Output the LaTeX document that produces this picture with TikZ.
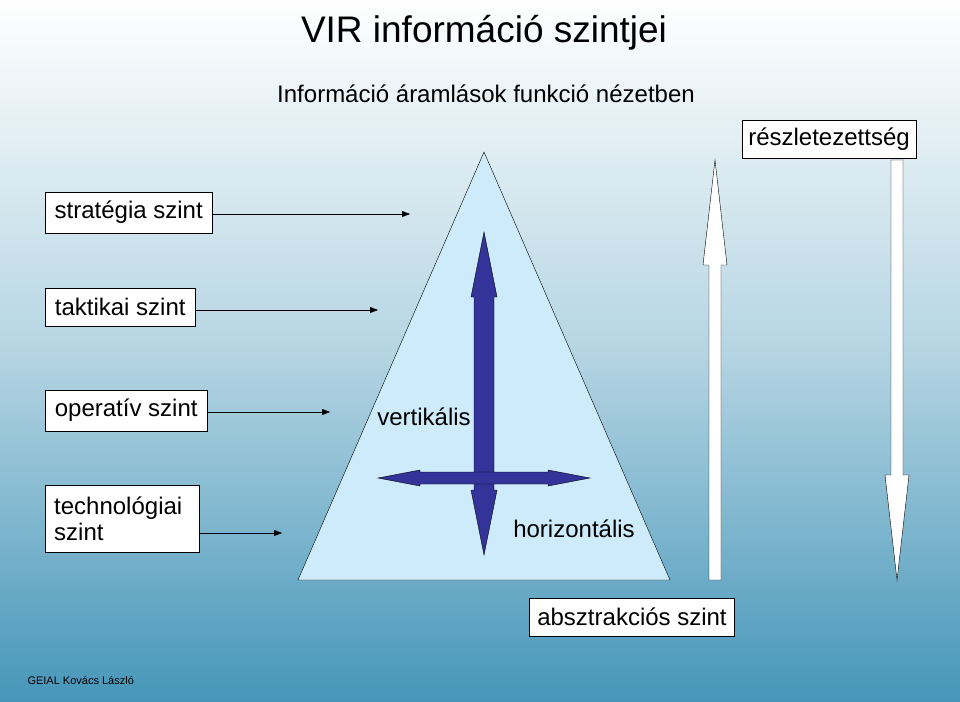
\documentclass[tikz,border=0pt]{standalone}
\usepackage{fontspec}
\setmainfont{Liberation Sans}
\usetikzlibrary{arrows.meta,positioning}
\definecolor{bgblue}{RGB}{70,150,185}
\definecolor{pyrfill}{RGB}{205,235,250}
\definecolor{navy}{RGB}{51,51,153}
\tikzset{
  lvlbox/.style={draw=black,fill=white,font=\fontsize{24}{26}\selectfont,align=left,inner sep=9pt,anchor=north west},
  lvlarrow/.style={draw=black,-{Triangle[length=8pt,width=6pt]}},
  bigarrow/.style={draw=black,fill=navy},
  whitearrow/.style={draw=black,fill=white}
}
\begin{document}
\begin{tikzpicture}[x=1pt,y=-1pt]
  \shade[top color=white,bottom color=bgblue,middle color=white!60!bgblue] (0,0) rectangle (960,701);
  \useasboundingbox (0,0) rectangle (960,701);

  \node (title) at (484,33) {\fontsize{37}{40}\selectfont VIR információ szintjei};
  \node (sub) at (486,94) {\fontsize{24}{26}\selectfont Információ áramlások funkció nézetben};

  % pyramid
  \draw[fill=pyrfill] (484,152) -- (670,580) -- (298,580) -- cycle;

  % blue cross
  \draw[bigarrow] (484,232) -- (497,297) -- (494,297) -- (494,490) -- (497,490) -- (484,555)
    -- (471,490) -- (474,490) -- (474,297) -- (471,297) -- cycle;
  \draw[bigarrow] (378,478) -- (420,470) -- (420,472) -- (548,472) -- (548,470) -- (590,478)
    -- (548,486) -- (548,484) -- (420,484) -- (420,486) -- cycle;

  % white arrows
  \draw[whitearrow] (715,160) -- (727,265) -- (721,265) -- (721,580) -- (709,580) -- (709,265) -- (703,265) -- cycle;
  \draw[whitearrow] (897,580) -- (909,475) -- (903,475) -- (903,160) -- (891,160) -- (891,475) -- (885,475) -- cycle;

  \node[lvlbox,minimum width=174pt,minimum height=38pt,align=center,anchor=center,inner sep=2pt] (reszl) at (829,139) {részletezettség};
  \node (vert) at (424,417) {\fontsize{24}{26}\selectfont vertikális};
  \node (hor) at (574,529) {\fontsize{24}{26}\selectfont horizontális};
  \node[lvlbox,minimum width=205pt,minimum height=38pt,align=center,anchor=center,inner sep=2pt] (absz) at (632,617) {absztrakciós szint};

  % levels
  \node[lvlbox,minimum width=167pt,minimum height=39pt] (strat) at (45,192) {stratégia szint};
  \node[lvlbox,minimum width=150pt,minimum height=38pt] (takt) at (45,288) {taktikai szint};
  \node[lvlbox,minimum width=162pt,minimum height=39pt] (oper) at (45,390) {operatív szint};
  \node[lvlbox,minimum width=154pt,minimum height=67pt,inner sep=3pt,inner xsep=9pt,text width=136pt] (tech) at (45,485) {\fontsize{24}{26}\selectfont technológiai\\szint};

  \coordinate (stratend) at (410,214);
  \coordinate (taktend) at (378,310);
  \coordinate (operend) at (330,412);
  \coordinate (techend) at (282,533);
  \draw[lvlarrow] (strat.east |- stratend) -- (stratend);
  \draw[lvlarrow] (takt.east |- taktend) -- (taktend);
  \draw[lvlarrow] (oper.east |- operend) -- (operend);
  \draw[lvlarrow] (tech.east |- techend) -- (techend);

  \node[anchor=west,font=\fontsize{11}{12}\selectfont] (foot) at (24,680) {GEIAL Kovács László};
\end{tikzpicture}
\end{document}
